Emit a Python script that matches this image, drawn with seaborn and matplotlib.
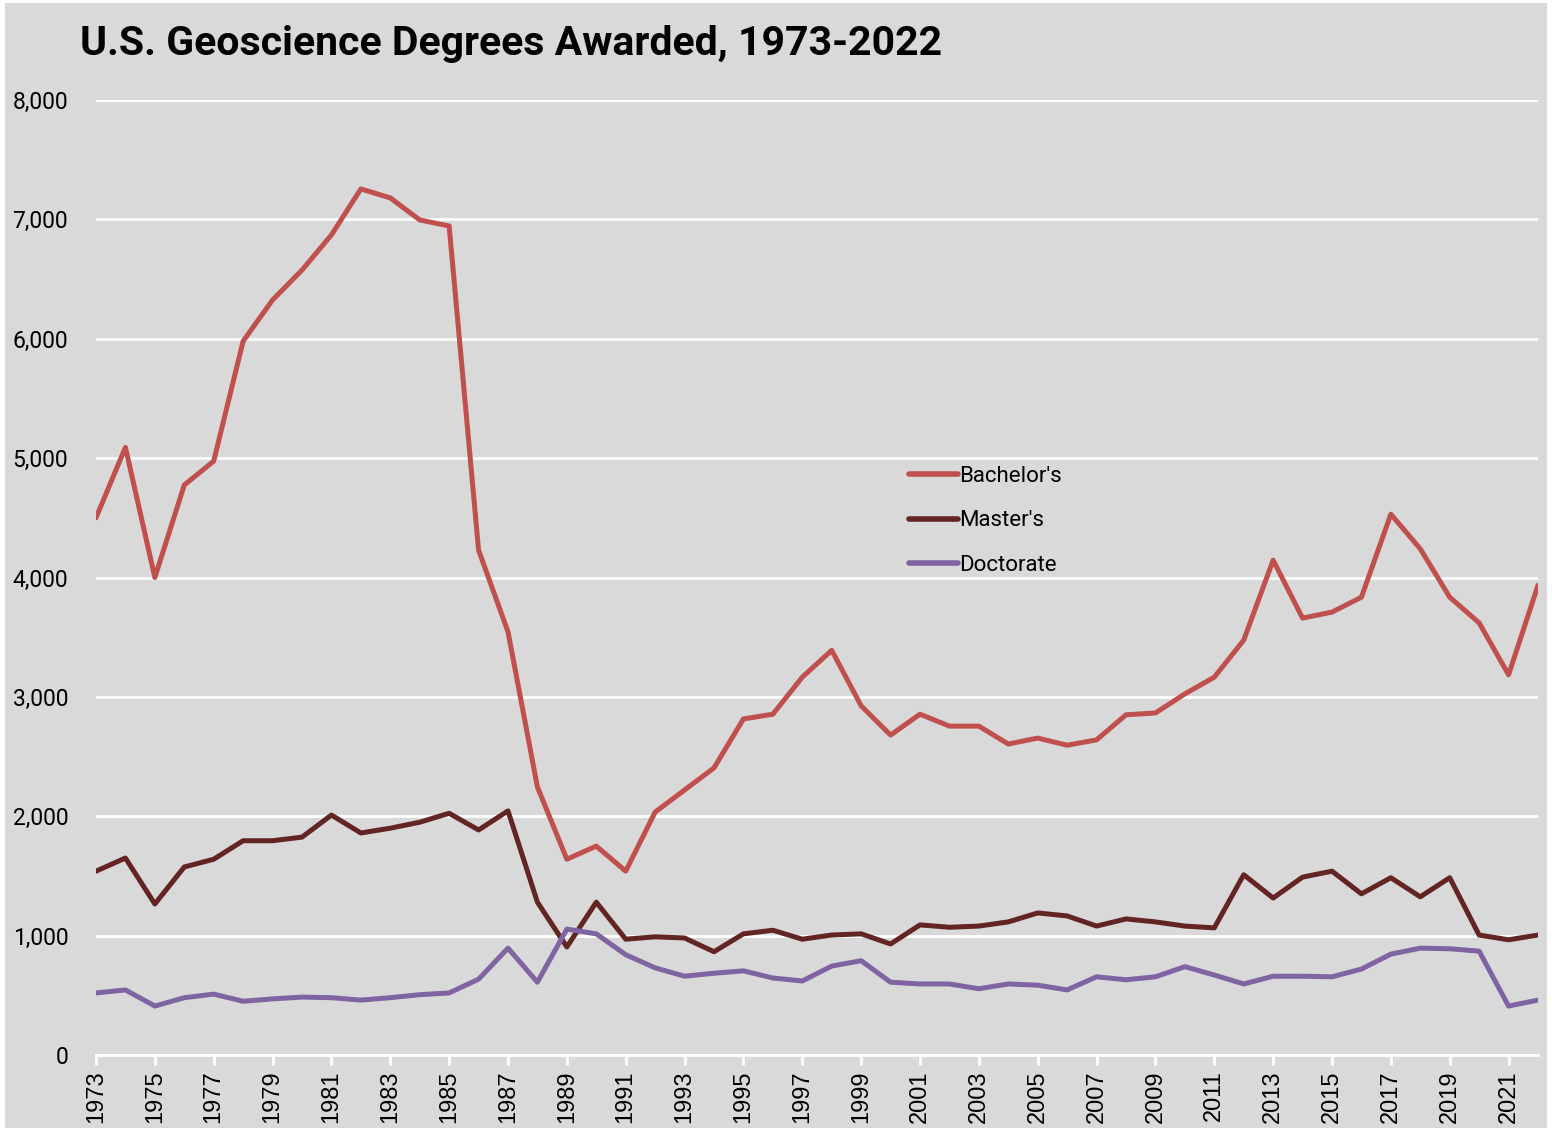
import numpy as np
import pandas as pd
import matplotlib.pyplot as plt
import matplotlib.patches as mpatches
import seaborn as sns

years = list(range(1973, 2023))

bachelors = [4500, 5090, 4000, 4775, 4975, 5980, 6325, 6575, 6870, 7255,
             7180, 6995, 6945, 4230, 3545, 2245, 1640, 1750, 1540, 2035,
             2220, 2405, 2815, 2855, 3165, 3390, 2925, 2680, 2855, 2755,
             2755, 2605, 2655, 2595, 2640, 2850, 2865, 3025, 3165, 3475,
             4145, 3660, 3710, 3835, 4530, 4240, 3835, 3620, 3185, 3935]

masters = [1540, 1650, 1265, 1575, 1640, 1795, 1795, 1825, 2010, 1860,
           1900, 1950, 2025, 1885, 2045, 1280, 905, 1280, 970, 990,
           980, 865, 1015, 1045, 970, 1005, 1015, 930, 1090, 1070,
           1080, 1115, 1190, 1165, 1080, 1140, 1115, 1080, 1065, 1510,
           1315, 1490, 1540, 1350, 1485, 1325, 1485, 1005, 965, 1005]

doctorate = [520, 545, 410, 480, 510, 450, 470, 485, 480, 460,
             480, 505, 520, 635, 895, 610, 1055, 1015, 840, 730,
             660, 685, 705, 645, 620, 745, 790, 610, 595, 595,
             555, 595, 585, 545, 655, 630, 655, 740, 670, 595,
             660, 660, 655, 720, 845, 895, 890, 870, 410, 460]

labels = ["Bachelor's", "Master's", "Doctorate"]
colors = ["#c0504d", "#632523", "#8064a2"]

df = pd.DataFrame({"Year": years, labels[0]: bachelors,
                   labels[1]: masters, labels[2]: doctorate})
long = df.melt(id_vars="Year", var_name="Degree", value_name="Count")

sns.set_style("darkgrid", {"axes.facecolor": "#d9d9d9",
                           "grid.color": "white", "axes.edgecolor": "white",
                           "text.color": "black", "xtick.color": "black",
                           "ytick.color": "black"})
plt.rcParams["font.family"] = ["Roboto", "DejaVu Sans"]

fig = plt.figure(figsize=(15.52, 11.31), dpi=100)
fig.patch.set_facecolor("white")
fig.patches.append(mpatches.Rectangle((0.003, 0.003), 0.994, 0.994,
                                      transform=fig.transFigure,
                                      facecolor="#d9d9d9", edgecolor="none",
                                      zorder=-10))
ax = fig.add_axes([96 / 1552, 1 - 1055 / 1131, (1538 - 96) / 1552, (1055 - 100) / 1131])

sns.lineplot(data=long, x="Year", y="Count", hue="Degree",
             palette=dict(zip(labels, colors)), linewidth=3.6, ax=ax,
             legend=True)

ax.set_xlim(1973, 2022)
ax.set_ylim(0, 8000)
ax.set_xlabel("")
ax.set_ylabel("")
ax.grid(axis="x", visible=False)
ax.grid(axis="y", color="white", linewidth=2)
for s in ["top", "right", "left"]:
    ax.spines[s].set_visible(False)
ax.spines["bottom"].set_color("white")
ax.spines["bottom"].set_linewidth(2)

ax.set_yticks(range(0, 8001, 1000))
ax.set_yticklabels([f"{v:,}" for v in range(0, 8001, 1000)], fontsize=16.5)
ax.tick_params(axis="y", length=0, pad=20, labelcolor="black")

ax.set_xticks(list(range(1973, 2022, 2)))
ax.set_xticklabels([str(y) for y in range(1973, 2022, 2)], rotation=90,
                   fontsize=17, family="Liberation Sans")
ax.tick_params(axis="x", length=7, width=2, color="white", pad=4,
               bottom=True, labelcolor="black")

leg = ax.legend(loc="upper left", bbox_to_anchor=(889 / 1552, 1 - 446 / 1131),
                bbox_transform=fig.transFigure, frameon=False, fontsize=16,
                handlelength=2.2, handletextpad=0.05, labelspacing=1.05)
for line in leg.get_lines():
    line.set_linewidth(4)
    line.set_solid_capstyle("round")
for t in leg.get_texts():
    t.set_color("black")

fig.text(80 / 1552, 1 - 44 / 1131, "U.S. Geoscience Degrees Awarded, 1973-2022",
         fontsize=29.5, fontweight="bold", va="center", ha="left", color="black")

fig.savefig("out.png", dpi=100, facecolor=fig.get_facecolor())
